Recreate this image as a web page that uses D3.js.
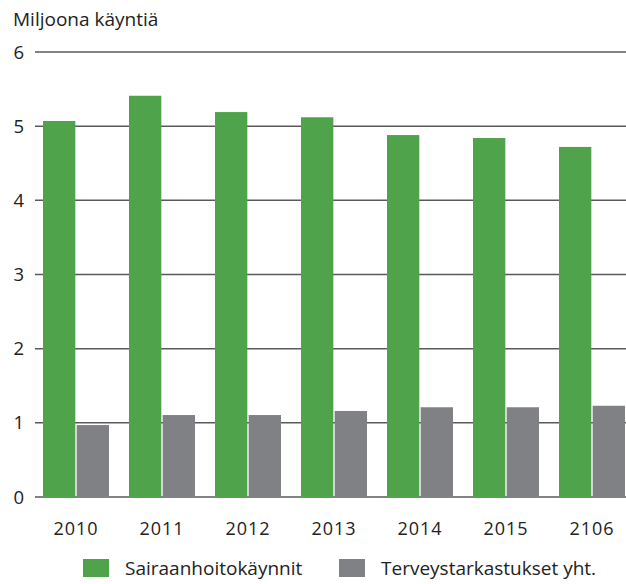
<!DOCTYPE html>
<html>
<head>
<meta charset="utf-8">
<script src="https://cdn.jsdelivr.net/npm/d3@7"></script>
<style>
  body { margin: 0; background: #fff; }
  text { font-family: "Open Sans", "Noto Sans", sans-serif; fill: #222; }
</style>
</head>
<body>
<div id="chart"></div>
<script>
var years = ["2010", "2011", "2012", "2013", "2014", "2015", "2106"];
var sairaanhoito = [5.07, 5.41, 5.19, 5.12, 4.88, 4.84, 4.72];
var terveystarkastukset = [0.97, 1.105, 1.105, 1.16, 1.21, 1.21, 1.23];
var seriesNames = ["Sairaanhoitokäynnit", "Terveystarkastukset yht."];
var yTicks = [0, 1, 2, 3, 4, 5, 6];

var colors = ["#4fa34a", "#808185"];
var svgWidth = 626;
var svgHeight = 584;

var svg = d3.select("#chart").append("svg")
  .attr("width", svgWidth)
  .attr("height", svgHeight);

// scales
var x0 = d3.scaleBand()
  .domain(years)
  .range([33, 635])
  .paddingInner(20 / 86)
  .paddingOuter(10 / 86);

var x1 = d3.scaleBand()
  .domain([0, 1])
  .range([0, x0.bandwidth()])
  .paddingInner(0.04);

var y = d3.scaleLinear()
  .domain([0, 6])
  .range([497, 52]);

// gridlines
svg.append("g")
  .selectAll("line")
  .data(yTicks)
  .enter()
  .append("line")
  .attr("x1", 35)
  .attr("x2", svgWidth)
  .attr("y1", d => y(d))
  .attr("y2", d => y(d))
  .attr("stroke", "#5a5a5a")
  .attr("stroke-width", 1.5);

// y tick labels
svg.append("g")
  .selectAll("text")
  .data(yTicks)
  .enter()
  .append("text")
  .attr("x", 24)
  .attr("y", d => y(d))
  .attr("dy", "0.36em")
  .attr("text-anchor", "end")
  .style("font-size", "18.5px")
  .text(d => d);

// title
svg.append("text")
  .attr("x", 13)
  .attr("y", 26)
  .style("font-size", "19px")
  .text("Miljoona käyntiä");

// bars
var data = years.map(function(yr, i) {
  return { year: yr, values: [sairaanhoito[i], terveystarkastukset[i]] };
});

var groups = svg.append("g")
  .selectAll("g")
  .data(data)
  .enter()
  .append("g")
  .attr("transform", d => `translate(${x0(d.year)},0)`);

groups.selectAll("rect")
  .data(d => d.values.map((v, k) => ({ k: k, v: v })))
  .enter()
  .append("rect")
  .attr("x", d => x1(d.k))
  .attr("width", x1.bandwidth())
  .attr("y", d => y(d.v))
  .attr("height", d => y(0) - y(d.v))
  .attr("fill", d => colors[d.k]);

// x labels
svg.append("g")
  .selectAll("text")
  .data(years)
  .enter()
  .append("text")
  .attr("x", d => x0(d) + x0.bandwidth() / 2)
  .attr("y", 535)
  .attr("text-anchor", "middle")
  .style("font-size", "18px")
  .style("letter-spacing", "1px")
  .text(d => d);

// legend
var legendX = [83, 339];
var legend = svg.append("g")
  .selectAll("g")
  .data(seriesNames)
  .enter()
  .append("g")
  .attr("transform", (d, i) => `translate(${legendX[i]},559)`);

legend.append("rect")
  .attr("width", 26)
  .attr("height", 18)
  .attr("fill", (d, i) => colors[i]);

legend.append("text")
  .attr("x", 42)
  .attr("y", 16)
  .style("font-size", "19px")
  .text(d => d);
</script>
</body>
</html>
